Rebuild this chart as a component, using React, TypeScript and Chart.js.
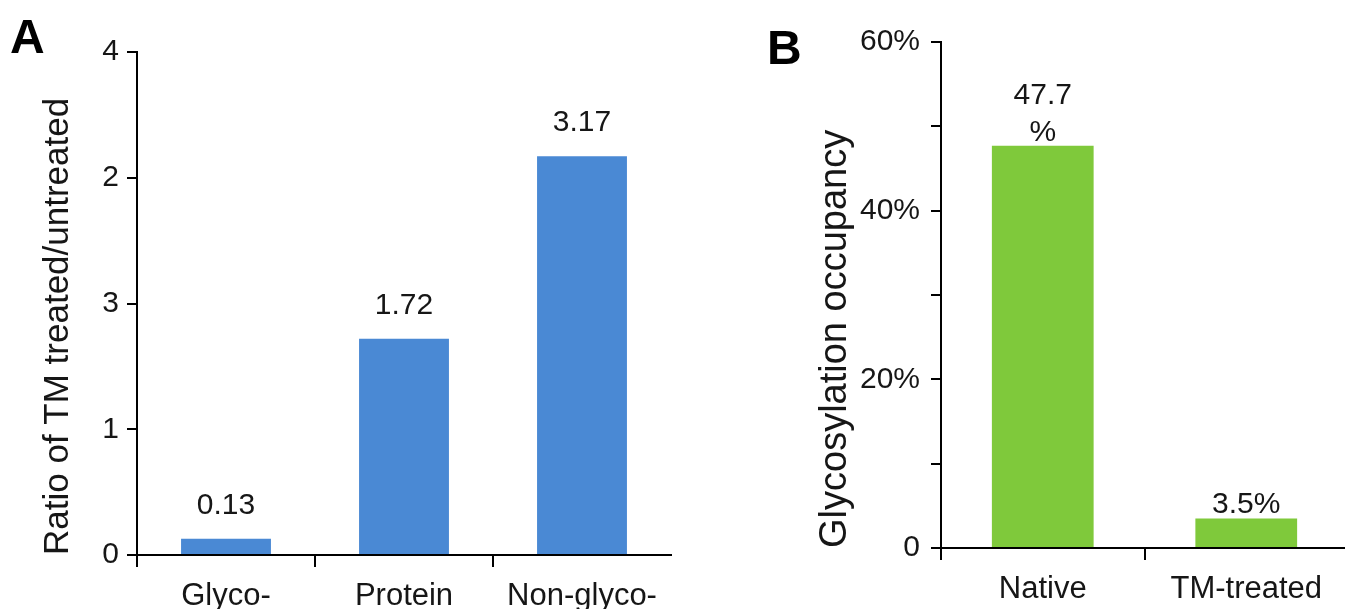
import React, { useEffect, useRef } from "react";
import { Chart, registerables } from "chart.js";

Chart.register(...registerables);

const FONT = "'Liberation Sans', Arial, Helvetica, sans-serif";

// Panel A data
const categoriesA = ["Glyco-", "Protein", "Non-glyco-"];
const valuesA = [0.13, 1.72, 3.17];
const valueLabelsA = [["0.13"], ["1.72"], ["3.17"]];
const tickLabelsA = ["0", "1", "3", "2", "4"];

// Panel B data
const categoriesB = ["Native", "TM-treated"];
const valuesB = [47.7, 3.5];
const valueLabelsB = [["47.7", "%"], ["3.5%"]];
const tickLabelsB = ["0", "", "20%", "", "40%", "", "60%"];

const valueLabelPlugin = {
  id: "valueLabels",
  afterDatasetsDraw(chart: any, _args: any, opts: any) {
    const { ctx } = chart;
    const meta = chart.getDatasetMeta(0);
    ctx.save();
    ctx.font = `${opts.size}px ${FONT}`;
    ctx.fillStyle = opts.color;
    ctx.textAlign = "center";
    ctx.textBaseline = "alphabetic";
    meta.data.forEach((bar: any, i: number) => {
      const lines: string[] = opts.labels[i] || [];
      const n = lines.length;
      lines.forEach((line, j) => {
        const y = bar.y - opts.gap - (n - 1 - j) * opts.lineHeight;
        ctx.fillText(line, bar.x, y);
      });
    });
    ctx.font = `bold ${opts.letterSize}px ${FONT}`;
    ctx.textAlign = "left";
    ctx.fillStyle = "#000";
    ctx.fillText(opts.letter, opts.letterX, opts.letterY);
    ctx.restore();
  },
};

function makeConfig(p: {
  categories: string[];
  values: number[];
  color: string;
  barPct: number;
  padTop: number;
  padRight: number;
  yWidth: number;
  xHeight: number;
  yMax: number;
  yStep: number;
  tickLabels: string[];
  yTickPad: number;
  title: string;
  titleSize: number;
  titlePad: number;
  labels: string[][];
  labelGap: number;
  labelLineHeight: number;
  letter: string;
  letterX: number;
  letterY: number;
}): any {
  return {
    type: "bar",
    data: {
      labels: p.categories,
      datasets: [
        {
          data: p.values,
          backgroundColor: p.color,
          borderWidth: 0,
          barPercentage: p.barPct,
          categoryPercentage: 1,
        },
      ],
    },
    options: {
      animation: false,
      responsive: false,
      events: [],
      layout: { padding: { top: p.padTop, right: p.padRight, bottom: 0, left: 0 } },
      plugins: {
        legend: { display: false },
        tooltip: { enabled: false },
        valueLabels: {
          labels: p.labels,
          size: 30,
          color: "#161616",
          gap: p.labelGap,
          lineHeight: p.labelLineHeight,
          letter: p.letter,
          letterX: p.letterX,
          letterY: p.letterY,
          letterSize: 48,
        },
      },
      scales: {
        x: {
          type: "category",
          offset: true,
          grid: {
            offset: true,
            drawOnChartArea: false,
            drawTicks: true,
            tickLength: 12,
            lineWidth: 2,
            tickWidth: 2,
            tickColor: (ctx: any) => (ctx.tick === undefined ? "rgba(0,0,0,0)" : "#000"),
            color: "#000",
          },
          border: { display: true, color: "#000", width: 2 },
          ticks: {
            font: { size: 31, family: FONT },
            color: "#161616",
            padding: 11,
            maxRotation: 0,
            autoSkip: false,
          },
          afterFit: (s: any) => {
            s.height = p.xHeight;
          },
        },
        y: {
          min: 0,
          max: p.yMax,
          grid: {
            drawOnChartArea: false,
            drawTicks: true,
            tickLength: 10,
            lineWidth: 2,
            tickWidth: 2,
            tickColor: "#000",
            color: "#000",
          },
          border: { display: true, color: "#000", width: 2 },
          ticks: {
            stepSize: p.yStep,
            autoSkip: false,
            font: { size: 30, family: FONT },
            color: "#161616",
            padding: p.yTickPad,
            callback: (_v: any, i: number) => p.tickLabels[i],
          },
          title: {
            display: true,
            text: p.title,
            align: "start",
            color: "#161616",
            font: { size: p.titleSize, family: FONT },
            padding: { top: p.titlePad, bottom: 0 },
          },
          afterFit: (s: any) => {
            s.width = p.yWidth;
          },
        },
      },
    },
    plugins: [valueLabelPlugin],
  };
}

function BarPanel({ config, width, left }: { config: any; width: number; left: number }) {
  const ref = useRef<HTMLCanvasElement | null>(null);
  useEffect(() => {
    if (!ref.current) return;
    const chart = new Chart(ref.current, config);
    return () => chart.destroy();
  }, [config]);
  return (
    <canvas
      ref={ref}
      width={width}
      height={609}
      style={{ position: "absolute", left, top: 0, width, height: 609, display: "block" }}
    />
  );
}

const configA = makeConfig({
  categories: categoriesA,
  values: valuesA,
  color: "#4a89d4",
  barPct: 0.505,
  padTop: 52,
  padRight: 29,
  yWidth: 137,
  xHeight: 54,
  yMax: 4,
  yStep: 1,
  tickLabels: tickLabelsA,
  yTickPad: 8,
  title: "Ratio of TM treated/untreated",
  titleSize: 35,
  titlePad: 37,
  labels: valueLabelsA,
  labelGap: 25,
  labelLineHeight: 37,
  letter: "A",
  letterX: 10,
  letterY: 53,
});

const configB = makeConfig({
  categories: categoriesB,
  values: valuesB,
  color: "#7fc93b",
  barPct: 0.5,
  padTop: 42,
  padRight: 0,
  yWidth: 241,
  xHeight: 61,
  yMax: 60,
  yStep: 10,
  tickLabels: tickLabelsB,
  yTickPad: 11,
  title: "Glycosylation occupancy",
  titleSize: 38,
  titlePad: 113,
  labels: valueLabelsB,
  labelGap: 5,
  labelLineHeight: 37,
  letter: "B",
  letterX: 67,
  letterY: 64,
});

export default function App() {
  return (
    <div
      style={{
        position: "fixed",
        left: 0,
        top: 0,
        width: 1345,
        height: 609,
        overflow: "hidden",
        background: "#fff",
      }}
    >
      <BarPanel config={configA} width={700} left={0} />
      <BarPanel config={configB} width={648} left={700} />
    </div>
  );
}
